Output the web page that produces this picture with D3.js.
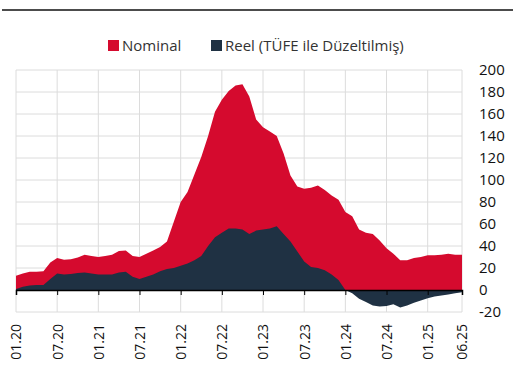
<!DOCTYPE html>
<html>
<head>
<meta charset="utf-8">
<script src="https://cdn.jsdelivr.net/npm/d3@7"></script>
<style>
body { margin: 0; background: #fff; font-family: "Open Sans", sans-serif; }
</style>
</head>
<body>
<script>
// monthly series, 01.20 .. 06.25
var nominal = [13, 15, 16.5, 16.5, 17, 25, 29, 27.5, 28, 29.5, 32, 31,
               30, 31, 32, 35.5, 36, 31, 30, 33, 36, 39, 44, 62,
               80, 89, 105, 121, 140, 162, 173, 181, 186, 187, 176, 155,
               148, 144, 140, 124, 104, 94, 92, 93, 95, 91, 86, 82,
               71, 67, 55, 52, 51, 45, 38, 33, 27, 27, 29, 30,
               31.5, 31.5, 32, 33, 32, 32];
var reel = [1, 3, 4, 4.5, 4.5, 10, 15, 14, 14.5, 15.5, 16, 15,
            14, 14, 14, 16, 16.5, 12, 10, 12, 14, 17, 19, 20,
            22, 24, 27, 31, 40, 48, 52, 56, 56, 55, 51, 54,
            55, 56, 58, 51, 44, 35, 26, 21, 20, 18, 14, 9,
            0, -3, -8, -11, -14, -15, -14.5, -13, -16, -14, -11.5, -9.5,
            -7.5, -6, -5, -4, -3, -2];
var tickLabels = ["01.20", "07.20", "01.21", "07.21", "01.22", "07.22",
                  "01.23", "07.23", "01.24", "07.24", "01.25", "06.25"];
var tickIndex = [0, 6, 12, 18, 24, 30, 36, 42, 48, 54, 60, 65];
var yTicks = [200, 180, 160, 140, 120, 100, 80, 60, 40, 20, 0, -20];
var seriesNames = ["Nominal", "Reel (TÜFE ile Düzeltilmiş)"];
var colors = ["#d50a2e", "#1f3143"];

var width = 520, height = 387;
var margin = {top: 70, right: 58, bottom: 75, left: 16};

var svg = d3.select("body").append("svg")
	.attr("width", width)
	.attr("height", height);

// top rule
svg.append("line")
	.attr("x1", 2).attr("x2", 513)
	.attr("y1", 10).attr("y2", 10)
	.attr("stroke", "#111")
	.attr("stroke-width", 1.5);

var x = d3.scaleLinear()
	.domain([0, nominal.length - 1])
	.range([margin.left, width - margin.right]);
var y = d3.scaleLinear()
	.domain([-20, 200])
	.range([312, 70]);

// grid
svg.append("g").selectAll("line")
	.data(yTicks)
	.enter().append("line")
	.attr("x1", x(0)).attr("x2", x(nominal.length - 1))
	.attr("y1", function(d) { return y(d); })
	.attr("y2", function(d) { return y(d); })
	.attr("stroke", "#dcdcdc")
	.attr("stroke-width", 1);
svg.append("g").selectAll("line")
	.data(tickIndex)
	.enter().append("line")
	.attr("x1", function(d) { return x(d); })
	.attr("x2", function(d) { return x(d); })
	.attr("y1", y(200)).attr("y2", y(-20))
	.attr("stroke", "#dcdcdc")
	.attr("stroke-width", 1);

// areas
var areaOf = function(vals) {
	return d3.area()
		.x(function(d, i) { return x(i); })
		.y0(y(0))
		.y1(function(d) { return y(d); })(vals);
};
svg.append("path").attr("d", areaOf(nominal)).attr("fill", colors[0]);
svg.append("path").attr("d", areaOf(reel)).attr("fill", colors[1]);

// x axis at zero
var xAxis = d3.axisBottom(x)
	.tickValues(tickIndex)
	.tickSize(5)
	.tickFormat(function(d) { return tickLabels[tickIndex.indexOf(d)]; });
var gx = svg.append("g")
	.attr("transform", "translate(0," + y(0) + ")")
	.call(xAxis);
gx.select(".domain").attr("stroke", "#000").attr("stroke-width", 1.5);
gx.selectAll(".tick line").attr("stroke", "#000");
gx.selectAll(".tick text")
	.attr("transform", "translate(0," + (y(-20) - y(0) + 12) + ") rotate(-90)")
	.attr("x", 0).attr("y", 0).attr("dy", "0.35em")
	.attr("text-anchor", "end")
	.style("font-size", "14px")
	.style("font-family", "Open Sans, sans-serif")
	.attr("fill", "#111");

// y labels on right
var yAxis = d3.axisRight(y).tickValues(yTicks).tickSize(0).tickPadding(17)
	.tickFormat(function(d) { return String(d); });
var gy = svg.append("g")
	.attr("transform", "translate(" + x(nominal.length - 1) + ",0)")
	.call(yAxis);
gy.select(".domain").remove();
gy.selectAll(".tick text")
	.style("font-size", "15px")
	.style("font-family", "Open Sans, sans-serif")
	.attr("fill", "#111");

// legend
var legendX = [108, 211];
var legend = svg.append("g").selectAll("g")
	.data(seriesNames)
	.enter().append("g")
	.attr("transform", function(d, i) { return "translate(" + legendX[i] + ",40)"; });
legend.append("rect")
	.attr("width", 11).attr("height", 11)
	.attr("fill", function(d, i) { return colors[i]; });
legend.append("text")
	.attr("x", 14).attr("y", 6)
	.attr("dy", "0.35em")
	.style("font-size", "15px")
	.attr("fill", "#333")
	.text(function(d) { return d; });
</script>
</body>
</html>
